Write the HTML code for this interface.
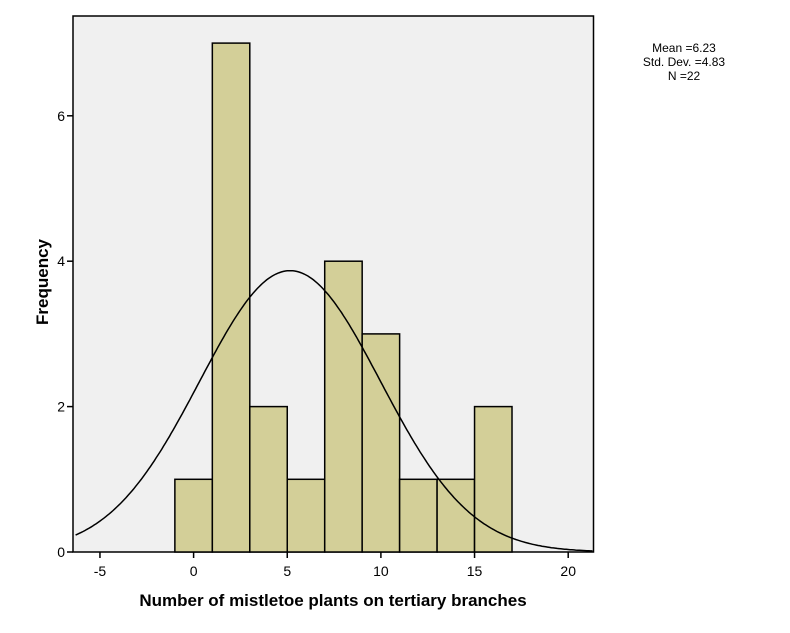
<!DOCTYPE html>
<html><head><meta charset="utf-8"><style>
body{margin:0;background:#fff;}
svg{display:block;font-family:"Liberation Sans",Arial,sans-serif;}
</style></head><body>
<svg id="chart" width="790" height="633" viewBox="0 0 790 633" xmlns="http://www.w3.org/2000/svg">
<rect x="73" y="16" width="520.5" height="536" fill="#f0f0f0" stroke="#000" stroke-width="1.5"/>
<g id="bars"></g>
<path id="curve" fill="none" stroke="#000" stroke-width="1.5"/>
<g id="axes"></g>
<text x="333" y="606" text-anchor="middle" font-size="17" font-weight="bold">Number of mistletoe plants on tertiary branches</text>
<text transform="translate(48,282) rotate(-90)" text-anchor="middle" font-size="17" font-weight="bold">Frequency</text>
<g font-size="12" text-anchor="middle">
<text x="684" y="52">Mean =6.23</text>
<text x="684" y="66">Std. Dev. =4.83</text>
<text x="684" y="80">N =22</text>
</g>
</svg>
<script>
const binStarts=[-1,1,3,5,7,9,11,13,15];
const counts=[1,7,2,1,4,3,1,1,2];
const binWidth=2;
const xTicks=[-5,0,5,10,15,20];
const yTicks=[0,2,4,6];
const curveMean=5.15, curveSd=4.83, curvePeak=3.87;
const X0=193.6, XU=18.73, Y0=552, YU=72.7;
const xs=v=>X0+v*XU, ys=v=>Y0-v*YU;
const NS="http://www.w3.org/2000/svg";
const bars=document.getElementById('bars');
binStarts.forEach((b,i)=>{
  const r=document.createElementNS(NS,'rect');
  r.setAttribute('x',xs(b));r.setAttribute('width',binWidth*XU);
  r.setAttribute('y',ys(counts[i]));r.setAttribute('height',counts[i]*YU);
  r.setAttribute('fill','#d3cf98');r.setAttribute('stroke','#000');r.setAttribute('stroke-width','1.5');
  
  
  bars.appendChild(r);
});
let d='';
for(let v=-6.3;v<=21.4;v+=0.1){
  const y=curvePeak*Math.exp(-Math.pow(v-curveMean,2)/(2*curveSd*curveSd));
  d+=(d?'L':'M')+xs(v).toFixed(1)+','+ys(y).toFixed(1);
}
document.getElementById('curve').setAttribute('d',d);
const ax=document.getElementById('axes');
xTicks.forEach(t=>{
  const l=document.createElementNS(NS,'line');
  l.setAttribute('x1',xs(t));l.setAttribute('x2',xs(t));l.setAttribute('y1',Y0);l.setAttribute('y2',Y0+6);
  l.setAttribute('stroke','#000');l.setAttribute('stroke-width','1.5');
  
  
  ax.appendChild(l);
  const tx=document.createElementNS(NS,'text');
  tx.setAttribute('x',xs(t));tx.setAttribute('y',Y0+24);tx.setAttribute('text-anchor','middle');tx.setAttribute('font-size','14');
  tx.textContent=t;
  
  
  ax.appendChild(tx);
});
yTicks.forEach(t=>{
  const l=document.createElementNS(NS,'line');
  l.setAttribute('x1',67);l.setAttribute('x2',73);l.setAttribute('y1',ys(t));l.setAttribute('y2',ys(t));
  l.setAttribute('stroke','#000');l.setAttribute('stroke-width','1.5');
  
  
  ax.appendChild(l);
  const tx=document.createElementNS(NS,'text');
  tx.setAttribute('x',65);tx.setAttribute('y',ys(t)+5);tx.setAttribute('text-anchor','end');tx.setAttribute('font-size','14');
  tx.textContent=t;
  
  
  ax.appendChild(tx);
});
</script>
</body></html>
